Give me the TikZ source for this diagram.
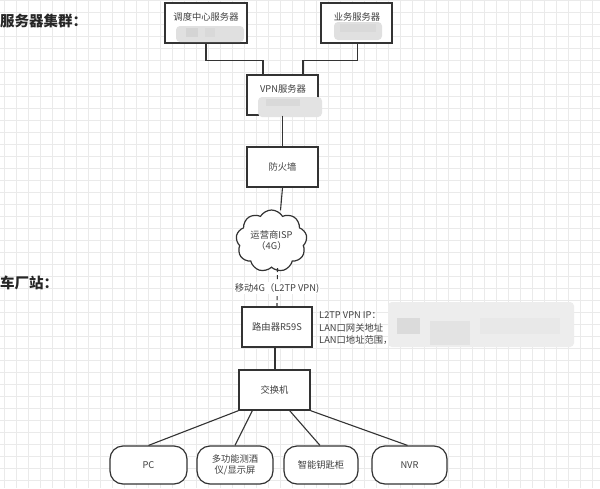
\documentclass[tikz,border=0pt]{standalone}
\usepackage{fontspec}
\setmainfont{Noto Sans CJK SC}
\usetikzlibrary{shapes.symbols}
\definecolor{ln}{HTML}{333333}
\definecolor{tx}{HTML}{404040}
\definecolor{gridc}{HTML}{EAEAEA}
\tikzset{
  box/.style={draw=ln,line width=1.4pt,minimum width=#1,minimum height=40pt,inner sep=0pt,font=\fontsize{9.3}{11}\selectfont,text=tx},
  leaf/.style={draw=ln,line width=1.2pt,rounded corners=13pt,minimum width=#1,minimum height=38pt,inner sep=0pt,font=\fontsize{9.3}{11}\selectfont,text=tx,align=center},
  conn/.style={draw=ln,line width=1.1pt},
  blob/.style={fill=#1,draw=none,rounded corners=4pt},
  title/.style={font=\fontsize{14.5}{16}\selectfont\bfseries,text=black!85,anchor=west,inner sep=0pt},
  note/.style={font=\fontsize{9.3}{11}\selectfont,text=tx,anchor=west,inner sep=0pt},
  lab/.style={font=\fontsize{9.3}{11}\selectfont,text=tx},
  gridline/.style={draw=gridc,line width=0.8pt}
}
\begin{document}
\begin{tikzpicture}[x=1pt,y=-1pt]
\useasboundingbox (0,0) rectangle (600,488);
\fill[white] (0,0) rectangle (600,488);
\foreach \gx in {4,16,...,600} {\draw[gridline] (\gx,0) -- (\gx,488);}
\foreach \gy in {0.5,12.5,...,488} {\draw[gridline] (0,\gy) -- (600,\gy);}
% titles
\node[title] (t1) at (0,21) {服务器集群：};
\node[title] (t2) at (0,283) {车厂站：};
% server boxes
\node[box=82pt,fill=white] (d1) at (206,23) {};
\node[box=71pt,fill=white] (d2) at (356.5,23) {};
\node[box=71pt,fill=white] (vpn) at (282.5,95) {};
\node[lab] (d1t) at (206,17) {调度中心服务器};
\node[lab] (d2t) at (357,17) {业务服务器};
\node[lab] (vpnt) at (283,89) {VPN服务器};
\fill[blob=gray!24] (176,26) rectangle (244,42);
\fill[gray!34] (186,28) rectangle (198,37);
\fill[gray!30] (205,28) rectangle (215,37);
\fill[blob=gray!24] (334,22) rectangle (382,40);
\fill[gray!30] (340,24) rectangle (376,32);
\fill[blob=gray!22] (258,97) rectangle (322,117);
\fill[gray!30] (266,99) rectangle (300,106);
% firewall, cloud
\node[box=71pt,fill=white] (fw) at (282.5,167) {防火墙};
\node[cloud,cloud puffs=9,cloud puff arc=120,aspect=1.15,draw=ln,line width=1.2pt,fill=white,minimum width=71pt,minimum height=62pt,inner sep=0pt,align=center,font=\fontsize{9.3}{11}\selectfont,text=tx] (isp) at (271.5,241) {运营商ISP\\（4G）};
% router, switch
\node[box=70pt,fill=white] (rt) at (277,327) {路由器R59S};
\node[box=71pt,fill=white] (sw) at (274.5,390) {交换机};
% leaves
\node[leaf=77pt,fill=white] (pc) at (148.5,465) {PC};
\node[leaf=76pt,fill=white] (mf) at (235,465) {多功能测酒\\仪/显示屏};
\node[leaf=74pt,fill=white] (zn) at (321,465) {智能钥匙柜};
\node[leaf=75pt,fill=white] (nvr) at (409.5,465) {NVR};
% connectors
\draw[conn] (d1.south) -- ++(0,17) -| ([xshift=-19.5pt]vpn.north);
\draw[conn] ([xshift=1pt]d2.south) -- ++(0,17) -| ([xshift=20.5pt]vpn.north);
\draw[conn] (vpn.south) -- (fw.north);
\draw[conn] (fw.south) -- ([xshift=9pt,yshift=-1pt]isp.north);
\draw[conn,dashed,dash pattern=on 4pt off 3pt] ([xshift=6pt]isp.south) -- (rt.north);
\node[lab,fill=white,inner sep=1pt] (lbl) at (277,288) {移动4G（L2TP VPN)};
\draw[conn] ([xshift=-2pt]rt.south) -- ([xshift=0.5pt]sw.north);
\draw[conn] (sw.south west) -- (pc.north);
\draw[conn] ([xshift=14pt]sw.south west) -- (mf.north);
\draw[conn] ([xshift=-21pt]sw.south east) -- ([xshift=-1pt]zn.north);
\draw[conn] (sw.south east) -- ([xshift=-2pt]nvr.north);
% notes
\node[note] (n1) at (319,315) {L2TP VPN IP：};
\node[note] (n2) at (319,327.5) {LAN口网关地址};
\node[note] (n3) at (319,340) {LAN口地址范围，};
\fill[blob=gray!14] (388,302) rectangle (574,347);
\fill[gray!28] (397,318) rectangle (420,334);
\fill[gray!22] (430,321) rectangle (470,345);
\fill[gray!18] (480,318) rectangle (560,334);
\end{tikzpicture}
\end{document}
